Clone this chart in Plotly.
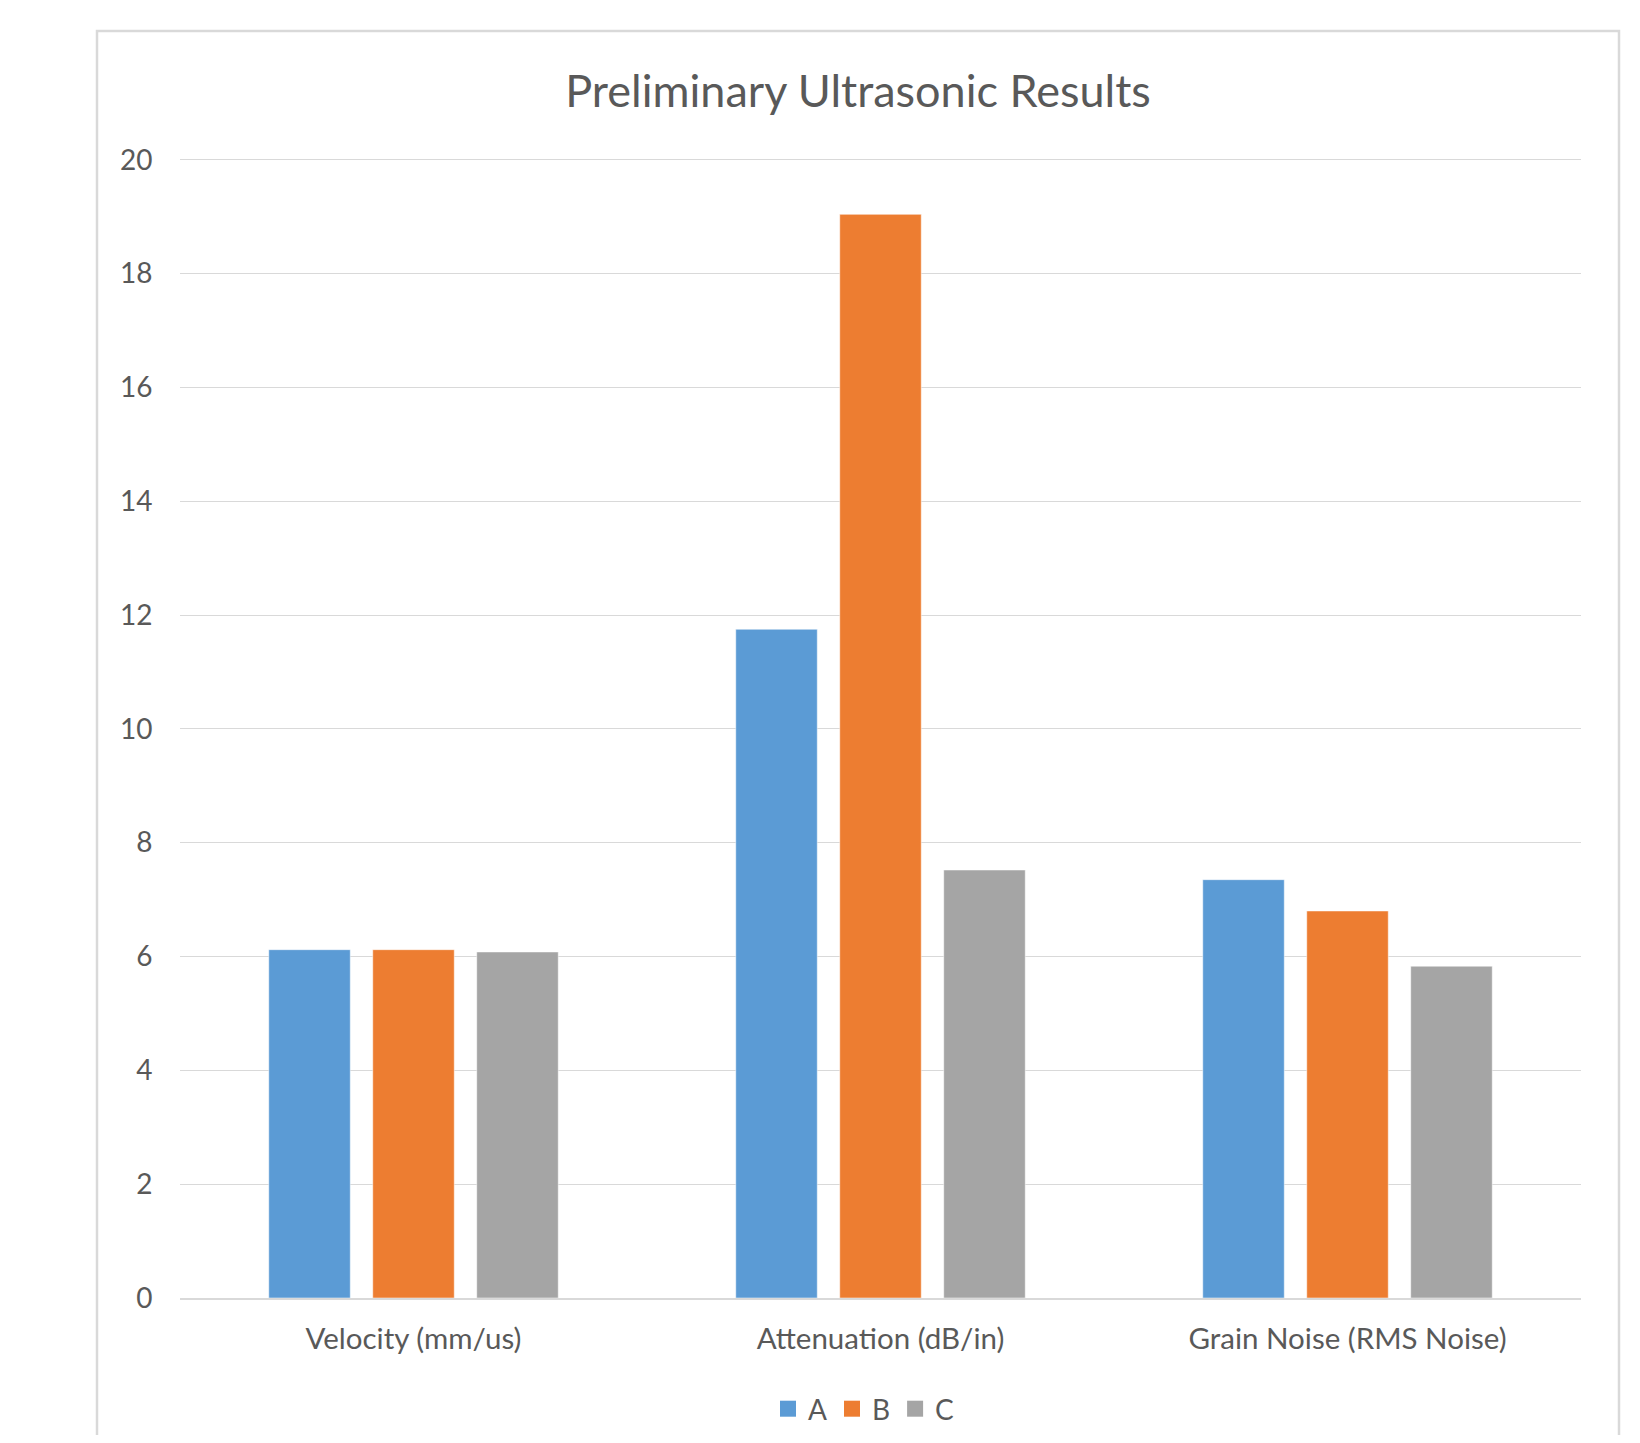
import plotly.graph_objects as go

categories = ["Velocity (mm/us)", "Attenuation (dB/in)", "Grain Noise (RMS Noise)"]
series_names = ["A", "B", "C"]
values_a = [6.12, 11.75, 7.35]
values_b = [6.12, 19.04, 6.80]
values_c = [6.08, 7.52, 5.83]
colors = ["#5B9BD5", "#ED7D31", "#A5A5A5"]
y_ticks = [0, 2, 4, 6, 8, 10, 12, 14, 16, 18, 20]

OFF = 8  # default page body margin
W, H = 1624, 1427
L, T = 172, 150
pw, ph = 1401, 1140
R, B = W - L - pw, H - T - ph

def px_x(vx):
    return (vx - OFF - L) / pw

def px_y(vy):
    return (H - B - (vy - OFF)) / ph

fig = go.Figure()
for name, vals, col in zip(series_names, [values_a, values_b, values_c], colors):
    fig.add_trace(go.Bar(
        x=categories, y=vals, name=name, showlegend=False,
        marker=dict(color=col, line=dict(color="rgba(255,255,255,0.5)", width=1)),
    ))
for name, col in zip(series_names, colors):
    fig.add_trace(go.Scatter(
        x=[None], y=[None], mode="markers", name=name,
        marker=dict(symbol="square", size=16, color=col),
    ))

font_family = "Lato, Open Sans, sans-serif"
text_col = "#595959"

fig.update_layout(
    width=W, height=H,
    margin=dict(l=L, r=R, t=T, b=B, pad=0, autoexpand=False),
    paper_bgcolor="white", plot_bgcolor="white",
    barmode="group", bargap=0.332, bargroupgap=0.216,
    title=dict(text="Preliminary Ultrasonic Results", x=(858 - OFF) / W, xanchor="center",
               y=1 - (91 - OFF) / H, yanchor="middle",
               font=dict(family=font_family, size=45, color=text_col)),
    font=dict(family=font_family, color=text_col, size=28),
    showlegend=True,
    legend=dict(orientation="h", xref="container", yref="container",
                x=(864 - OFF) / W, xanchor="center", y=1 - (1409 - OFF) / H, yanchor="middle",
                font=dict(size=28, color=text_col), itemwidth=30, traceorder="normal"),
    xaxis=dict(showgrid=False, showline=True, linecolor="#d9d9d9", linewidth=1.5,
               ticks="outside", tickcolor="rgba(0,0,0,0)", ticklen=14,
               tickfont=dict(size=29.5, color=text_col)),
    yaxis=dict(range=[0, 20.03], tickvals=y_ticks, showgrid=True, gridcolor="#d9d9d9", gridwidth=1.2,
               zeroline=False, showline=False, ticks="outside", tickcolor="rgba(0,0,0,0)", ticklen=21,
               tickfont=dict(size=28, color=text_col)),
)

fig.add_shape(type="rect", xref="paper", yref="paper",
              x0=px_x(97), x1=px_x(1619), y0=px_y(1470), y1=px_y(31),
              line=dict(color="#d9d9d9", width=2.5), fillcolor="rgba(0,0,0,0)", layer="below")

fig.write_html("out.html")
